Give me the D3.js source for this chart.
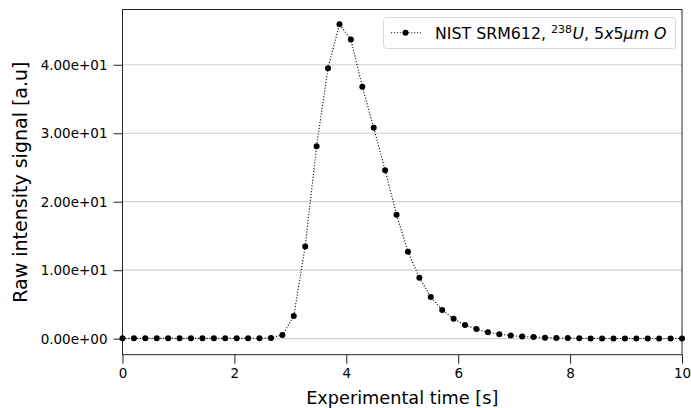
<!DOCTYPE html>
<html>
<head>
<meta charset="utf-8">
<script src="https://cdn.jsdelivr.net/npm/d3@7"></script>
<style>
	body { margin: 0; background: #fff; }
	svg text { font-family: "DejaVu Sans", sans-serif; fill: #000; }
</style>
</head>
<body>
<div id="chart"></div>
<script>
'use strict';

// time stamps [s]
const times = [
	0.000, 0.204, 0.408, 0.612, 0.816, 1.020, 1.224, 1.429, 1.633, 1.837,
	2.041, 2.245, 2.449, 2.653, 2.857, 3.061, 3.265, 3.469, 3.673, 3.878,
	4.082, 4.286, 4.490, 4.694, 4.898, 5.102, 5.306, 5.510, 5.714, 5.918,
	6.122, 6.327, 6.531, 6.735, 6.939, 7.143, 7.347, 7.551, 7.755, 7.959,
	8.163, 8.367, 8.571, 8.776, 8.980, 9.184, 9.388, 9.592, 9.796, 10.000
];

// raw signal [a.u]
const signal = [
	0.05, 0.05, 0.05, 0.05, 0.05, 0.05, 0.05, 0.05, 0.05, 0.05,
	0.05, 0.05, 0.06, 0.10, 0.55, 3.30, 13.45, 28.10, 39.50, 45.90,
	43.70, 36.80, 30.80, 24.60, 18.10, 12.70, 8.90, 6.10, 4.20, 2.90,
	2.00, 1.40, 0.95, 0.65, 0.45, 0.30, 0.25, 0.15, 0.10, 0.10,
	0.05, 0.04, 0.04, 0.03, 0.03, 0.03, 0.03, 0.03, 0.03, 0.03
];

const xTicks = [0, 2, 4, 6, 8, 10];
const yTicks = [0, 10, 20, 30, 40];
const xDomain = [0, 10];
const yDomain = [-2.34, 48.07];

const xLabel = "Experimental time [s]";
const yLabel = "Raw intensity signal [a.u]";


const sciFormat = v =>
{
	const s = d3.format(".2e")(v);
	return s.replace(/e([+-])(\d)$/, "e$10$2");
};


const drawChart = () =>
{
	const W = 691, H = 408;
	const left = 122.5, right = 9, top = 9.5, bottom = 53.3;
	const width  = W - left - right;
	const height = H - top - bottom;

	const x = d3.scaleLinear().domain(xDomain).range([0, width]);
	const y = d3.scaleLinear().domain(yDomain).range([height, 0]);

	const svg = d3.select("#chart")
		.append("svg")
		.attr("width", W)
		.attr("height", H);

	const g = svg.append("g")
		.attr("transform", "translate(" + left + "," + top + ")");

	// horizontal grid
	g.append("g")
		.selectAll("line")
		.data(yTicks)
		.enter()
			.append("line")
			.attr("x1", 0)
			.attr("x2", width)
			.attr("y1", d => y(d))
			.attr("y2", d => y(d))
			.attr("stroke", "#cfcfcf")
			.attr("stroke-width", 1.2);

	// axes
	const xAxis = g.append("g")
		.attr("transform", "translate(0," + height + ")")
		.call(d3.axisBottom(x).tickValues(xTicks).tickSize(9).tickPadding(5).tickFormat(d3.format("d")));

	const yAxis = g.append("g")
		.call(d3.axisLeft(y).tickValues(yTicks).tickSize(9).tickPadding(6).tickFormat(sciFormat));

	[xAxis, yAxis].forEach(ax =>
	{
		ax.select(".domain").remove();
		ax.selectAll(".tick line").attr("stroke", "#222").attr("stroke-width", 1);
		ax.selectAll("text")
			.style("font-family", "DejaVu Sans")
			.style("font-size", "13.5px")
			.attr("fill", "#111");
	});

	// frame
	g.append("rect")
		.attr("width", width)
		.attr("height", height)
		.attr("fill", "none")
		.attr("stroke", "#222")
		.attr("stroke-width", 1);

	const pts = times.map((t, i) => ({t: t, v: signal[i]}));

	const line = d3.line()
		.x(d => x(d.t))
		.y(d => y(d.v));

	g.append("path")
		.datum(pts)
		.attr("d", line)
		.attr("fill", "none")
		.attr("stroke", "#000")
		.attr("stroke-width", 1.1)
		.attr("stroke-dasharray", "1.1,1.8");

	g.selectAll(".pt")
		.data(pts)
		.enter()
			.append("circle")
			.attr("class", "pt")
			.attr("cx", d => x(d.t))
			.attr("cy", d => y(d.v))
			.attr("r", 3)
			.attr("fill", "#000");

	// axis labels
	svg.append("text")
		.attr("x", left + width / 2)
		.attr("y", 403.5)
		.attr("text-anchor", "middle")
		.style("font-size", "17.7px")
		.text(xLabel);

	svg.append("text")
		.attr("transform", "translate(26.5," + (top + height / 2) + ") rotate(-90)")
		.attr("text-anchor", "middle")
		.style("font-size", "19px")
		.text(yLabel);

	// legend
	const lg = svg.append("g");

	lg.append("rect")
		.attr("x", 383.5)
		.attr("y", 17.5)
		.attr("width", 292)
		.attr("height", 31)
		.attr("rx", 3)
		.attr("fill", "#fff")
		.attr("fill-opacity", 0.8)
		.attr("stroke", "#d6d6d6")
		.attr("stroke-width", 1);

	lg.append("line")
		.attr("x1", 391)
		.attr("x2", 421)
		.attr("y1", 32.7)
		.attr("y2", 32.7)
		.attr("stroke", "#000")
		.attr("stroke-width", 1.1)
		.attr("stroke-dasharray", "1.1,1.8");

	lg.append("circle")
		.attr("cx", 405.5)
		.attr("cy", 32.7)
		.attr("r", 3)
		.attr("fill", "#000");

	// one text, inline super/italic runs (mathtext style)
	const lt = lg.append("text")
		.attr("x", 435)
		.attr("y", 38.5)
		.style("font-size", "15.8px");

	lt.append("tspan").text("NIST SRM612, ");
	lt.append("tspan").attr("dy", -6).style("font-size", "11px").text("238");
	lt.append("tspan").attr("dy", 6).attr("dx", 0.5).style("font-style", "italic").text("U");
	lt.append("tspan").text(", 5");
	lt.append("tspan").style("font-style", "italic").text("x");
	lt.append("tspan").text("5");
	lt.append("tspan").style("font-style", "italic").text("μm O");
};


document.addEventListener("DOMContentLoaded", () =>
{
	drawChart();
}, false);
</script>
</body>
</html>
